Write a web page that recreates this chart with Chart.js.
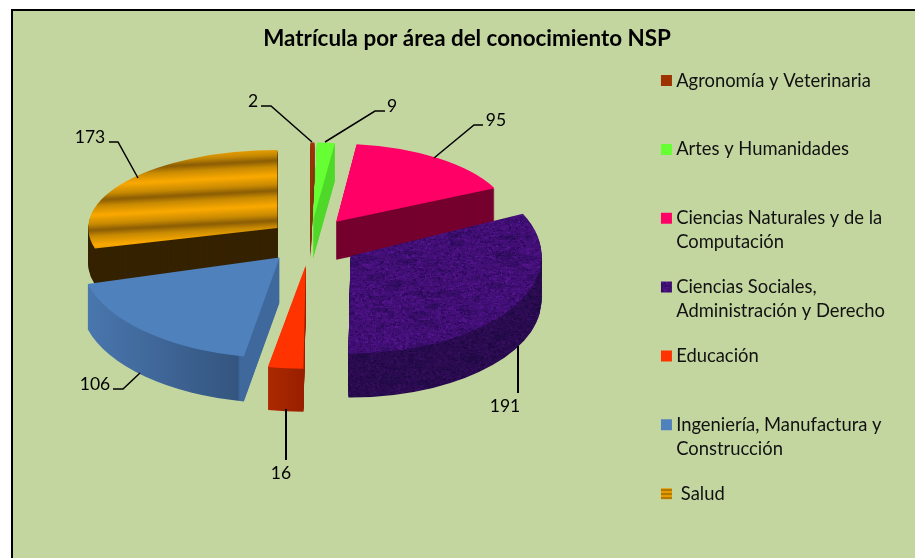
<!DOCTYPE html>
<html><head><meta charset="utf-8">
<style>
html,body{margin:0;padding:0;background:#fff;overflow:hidden;width:915px;height:558px}
#frame{position:absolute;left:11px;top:9px;width:1000px;height:700px;background:#c4d6a0;border:2px solid #000;box-sizing:border-box}
#wrap{position:absolute;left:0;top:0;width:915px;height:558px}
</style>
<script src="https://cdn.jsdelivr.net/npm/chart.js@4"></script>
</head><body>
<div id="frame"></div>
<div id="wrap"><canvas id="c" width="915" height="558"></canvas></div>
<script>
const titleText = 'Matrícula por área del conocimiento NSP';
const categories = [
  ['Agronomía y Veterinaria'],
  ['Artes y Humanidades'],
  ['Ciencias Naturales y de la','Computación'],
  ['Ciencias Sociales,','Administración y Derecho'],
  ['Educación'],
  ['Ingeniería, Manufactura y','Construcción'],
  [' Salud']
];
const values = [2, 9, 95, 191, 16, 106, 173];
const topColors  = ['#9c3300','#66ff33','#ff0066','#400f72','#ff3300','#4f81bd','#e09600'];
const wallColors = ['#7d3a10','#50d82b','#75002e','#2a0b50','#a02000','#3f689c','#352200'];
const tilt    = [0.40,0.40,0.40,0.50,0.53,0.515,0.40];
const widthF  = [0.96,0.96,0.90,0.98,1.08,1.02,0.97];
const depth   = [38,38,38,44,43,45,36];
const explode = [45,45,45,48,45,45,41];
const explodeTilt = [0.5,0.5,0.58,0.5,0.5,0.44,0.6];
const order   = [6,0,1,2,5,4,3];
const RADIUS = 195, CX = 310, CY = 243;

/* deterministic textures */
function tile(w,h,paint){const c=document.createElement('canvas');c.width=w;c.height=h;paint(c.getContext('2d'),w,h);return c;}
const ctx0 = document.getElementById('c').getContext('2d');
function stripes(period){
  return ctx0.createPattern(tile(8,period,(g,w,h)=>{
    const gr=g.createLinearGradient(0,0,0,h);
    gr.addColorStop(0,'#fba900');gr.addColorStop(.3,'#c88a02');gr.addColorStop(.5,'#8a5c04');
    gr.addColorStop(.7,'#c88a02');gr.addColorStop(1,'#fba900');
    g.fillStyle=gr;g.fillRect(0,0,w,h);}),'repeat');
}
function noise(r,gc,b,amp){
  return ctx0.createPattern(tile(160,160,(g,w,h)=>{
    let s=12345;const rnd=()=>{s=(s*1103515+12345)&0x7fffffff;return (s>>8)%1000/1000;};
    g.fillStyle=`rgb(${r},${gc},${b})`;g.fillRect(0,0,w,h);
    for(let i=0;i<9000;i++){const v=(rnd()-.5)*amp;
      g.fillStyle=`rgb(${r+v*.8|0},${gc+v*.25|0},${b+v|0})`;g.fillRect(rnd()*w|0,rnd()*h|0,1+rnd()*3|0,1+rnd()*2|0);}
    for(let i=0;i<60;i++){g.fillStyle='rgba(25,8,60,.22)';g.fillRect(rnd()*w|0,rnd()*h|0,8+rnd()*16|0,3+rnd()*5|0);}
  }),'repeat');
}
const goldTop = stripes(30), goldLegend = stripes(4);
const purpleTop = noise(66,15,118,46), purpleWall = noise(42,11,80,30);
const topFill = topColors.slice(); topFill[3]=purpleTop; topFill[6]=goldTop;
const legendFill = topFill.slice(); legendFill[6]=goldLegend;
const wallFill = wallColors.slice(); wallFill[3]=purpleWall;

const leaderTexts = values.map(String);
const leaders = [
  {t:[253,101],p:[[261,106],[271,106],[312,142]]},
  {t:[392,106],p:[[385,111],[375,111],[325,142]]},
  {t:[496,120],p:[[483,125],[474,125],[434,158]]},
  {t:[505,406],p:[[518,346],[518,393]],w:2},
  {t:[281,473],p:[[286,409],[286,460]],w:2},
  {t:[95,384], p:[[113,389],[123,389],[140,373]]},
  {t:[90,137], p:[[109,142],[118,142],[138,178]]}
];

function lockPattern(ctx,pat,ox,oy,rot){
  pat.setTransform(ctx.getTransform().inverse().multiply(new DOMMatrix().translate(ox,oy).rotate(rot)));
}
const pie3d = {
  id:'pie3d',
  beforeDatasetDraw(){return false;},
  afterDatasetsDraw(chart){
    const ctx=chart.ctx, arcs=chart.getDatasetMeta(0).data;
    order.forEach(i=>{
      const el=arcs[i], mid=(el.startAngle+el.endAngle)/2;
      const ax=CX+Math.cos(mid)*explode[i], ay=CY+Math.sin(mid)*explode[i]*explodeTilt[i];
      const R=el.outerRadius;
      /* side walls: the slice outline stacked downward */
      for(let d=depth[i];d>=1;d--){
        ctx.save();
        ctx.translate(ax,ay+d);ctx.scale(widthF[i],tilt[i]);
        let fill=wallFill[i];
        if(i===5){
          const g=ctx.createLinearGradient(-R,0,0,0);
          g.addColorStop(0,'#4a78b0');g.addColorStop(.79,'#34557f');g.addColorStop(.8,'#3f689c');g.addColorStop(1,'#3f689c');
          fill=g;
        } else if(i===4){
          const g=ctx.createLinearGradient(-R*0.19,0,0,0);
          g.addColorStop(0,'#ac2a00');g.addColorStop(1,'#981e00');fill=g;
        } else if(i===3){ lockPattern(ctx,purpleWall,0,0,0); }
        ctx.fillStyle=fill;
        ctx.beginPath();ctx.moveTo(0,0);ctx.arc(0,0,R,el.startAngle,el.endAngle);ctx.closePath();ctx.fill();
        if(i===1){ /* the lit cut face of the thin green slice */
          ctx.fillStyle=topColors[1];
          ctx.beginPath();ctx.moveTo(0,0);ctx.arc(0,0,R,el.startAngle,el.startAngle+(el.endAngle-el.startAngle)*0.55);ctx.closePath();ctx.fill();
        }
        ctx.restore();
      }
      /* top face: the library's own arc element */
      ctx.save();
      ctx.translate(ax,ay);ctx.scale(widthF[i],tilt[i]);ctx.translate(-el.x,-el.y);
      if(i===6) lockPattern(ctx,goldTop,0,160,-3);
      if(i===3) lockPattern(ctx,purpleTop,0,0,0);
      el.draw(ctx);
      ctx.restore();
    });
    /* data labels and leader lines */
    ctx.save();
    ctx.font='17.5px Lato';ctx.fillStyle='#000';ctx.textAlign='center';ctx.textBaseline='middle';
    leaders.forEach((l,i)=>{
      ctx.lineWidth=l.w||1.5;ctx.strokeStyle='#000';
      ctx.beginPath();l.p.forEach((q,j)=>j?ctx.lineTo(q[0],q[1]):ctx.moveTo(q[0],q[1]));ctx.stroke();
      ctx.fillText(leaderTexts[i],l.t[0],l.t[1]);
    });
    ctx.restore();
  }
};

new Chart(document.getElementById('c'),{
  type:'pie',
  data:{labels:categories.map(c=>c.join(' ')),datasets:[{data:values,backgroundColor:topFill,borderWidth:0}]},
  plugins:[pie3d],
  options:{
    responsive:false,animation:false,radius:RADIUS,
    layout:{padding:{left:39,right:20,top:28,bottom:0}},
    plugins:{
      tooltip:{enabled:false},
      title:{display:true,text:titleText,color:'#000',font:{family:'Lato',size:22.4,weight:'bold',lineHeight:1},padding:0},
      legend:{display:true,position:'right',align:'start',fullSize:false,
        labels:{
          color:'#111',font:{family:'Lato',size:18.4,lineHeight:1.3},
          usePointStyle:true,boxWidth:1,boxHeight:11,padding:21,
          generateLabels(){return categories.map((c,i)=>({
            text:[c[0],c[1]||''],fillStyle:legendFill[i],strokeStyle:'transparent',lineWidth:0,pointStyle:'rect',index:i,hidden:false,fontColor:'#111'}));}
        }}
    }
  }
});
</script>
</body></html>
